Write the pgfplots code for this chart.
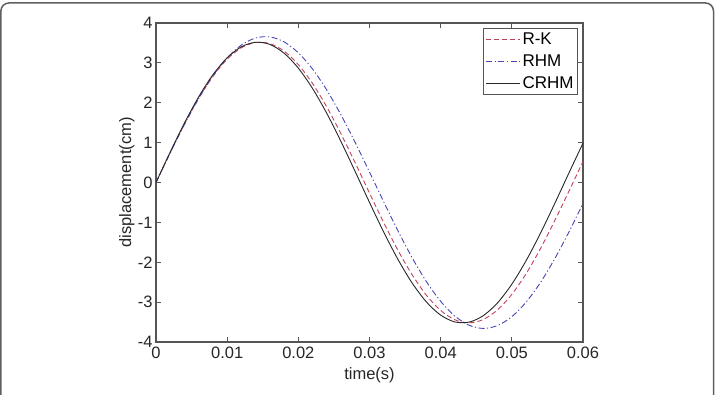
\documentclass[border=0pt]{standalone}
\usepackage{pgfplots}
\pgfplotsset{compat=1.18}
\usepackage{fontspec}
\setmainfont{Liberation Sans}

\definecolor{rkred}{RGB}{195,65,88}
\definecolor{rhmblue}{RGB}{70,70,185}
\definecolor{crhmblack}{RGB}{40,40,40}
\definecolor{axiscol}{RGB}{85,85,85}
\definecolor{framecol}{RGB}{95,95,95}

\begin{document}
\begin{tikzpicture}
\useasboundingbox (0,0) rectangle (717pt,394pt);
% outer frame of the figure panel
\draw[framecol, line width=1.5pt, rounded corners=8pt]
  (0.9pt,-5pt) -- (0.9pt,391pt) -- (713.5pt,391pt) -- (713.5pt,-5pt);

\begin{axis}[
  at={(156pt,52pt)}, anchor=south west,
  scale only axis, width=427pt, height=319pt,
  xmin=0, xmax=0.06, ymin=-4, ymax=4,
  scaled x ticks=false, scaled y ticks=false,
  xtick={0,0.01,0.02,0.03,0.04,0.05,0.06},
  xticklabels={0,0.01,0.02,0.03,0.04,0.05,0.06},
  ytick={-4,-3,-2,-1,0,1,2,3,4},
  yticklabels={-4,-3,-2,-1,0,1,2,3,4},
  tick align=inside, tick pos=both,
  major tick length=5pt,
  axis line style={axiscol, line width=1.1pt},
  tick style={axiscol, line width=0.9pt},
  ticklabel style={font=\fontsize{16.5}{19}\selectfont, text=black!85},
  xticklabel style={yshift=-1pt},
  /pgf/number format/assume math mode=true,
  xlabel={time(s)}, ylabel={displacement(cm)},
  label style={font=\fontsize{16.5}{19}\selectfont, text=black!85},
  xlabel style={at={(axis description cs:0.5,-0.103)}, anchor=center},
  ylabel style={at={(axis description cs:-0.068,0.5)}, anchor=center},
  legend style={at={(1,1)}, anchor=north east, xshift=-5pt, yshift=-5pt,
    draw=axiscol, line width=0.9pt, font=\fontsize{17}{20}\selectfont,
    inner xsep=2pt, inner ysep=2pt, row sep=5pt},
  legend cell align=left,
  legend image code/.code={\draw[#1] (0pt,0pt) -- (34pt,0pt);},
]
% R-K
\addplot[rkred, line width=0.9pt, dash pattern=on 5pt off 3pt, smooth] coordinates {
(0,0) (0.002,0.749) (0.004,1.464) (0.006,2.111) (0.008,2.662) (0.010,3.092)
(0.012,3.379) (0.014,3.511) (0.016,3.483) (0.018,3.295) (0.020,2.957)
(0.022,2.483) (0.024,1.894) (0.026,1.220) (0.028,0.489) (0.030,-0.264)
(0.032,-1.005) (0.034,-1.700) (0.036,-2.316) (0.038,-2.828) (0.040,-3.209)
(0.042,-3.443) (0.044,-3.520) (0.046,-3.435) (0.048,-3.193) (0.050,-2.805)
(0.052,-2.289) (0.054,-1.667) (0.056,-0.969) (0.058,-0.227) (0.060,0.526)
};
\addlegendentry{R-K}
% RHM
\addplot[rhmblue, line width=0.9pt, dash pattern=on 6pt off 2.5pt on 1.2pt off 2.5pt, smooth] coordinates {
(0,0) (0.002,0.744) (0.004,1.457) (0.006,2.109) (0.008,2.673) (0.010,3.125)
(0.012,3.447) (0.014,3.625) (0.016,3.652) (0.018,3.526) (0.020,3.253)
(0.022,2.845) (0.024,2.318) (0.026,1.693) (0.028,0.999) (0.030,0.262)
(0.032,-0.485) (0.034,-1.212) (0.036,-1.889) (0.038,-2.487) (0.040,-2.980)
(0.042,-3.350) (0.044,-3.580) (0.046,-3.660) (0.048,-3.587) (0.050,-3.365)
(0.052,-3.002) (0.054,-2.514) (0.056,-1.921) (0.058,-1.248) (0.060,-0.523)
};
\addlegendentry{RHM}
% CRHM
\addplot[crhmblack, line width=0.9pt, smooth] coordinates {
(0,0) (0.002,0.765) (0.004,1.492) (0.006,2.149) (0.008,2.703) (0.010,3.128)
(0.012,3.404) (0.014,3.517) (0.016,3.463) (0.018,3.243) (0.020,2.868)
(0.022,2.357) (0.024,1.733) (0.026,1.025) (0.028,0.270) (0.030,-0.499)
(0.032,-1.244) (0.034,-1.929) (0.036,-2.523) (0.038,-2.996) (0.040,-3.326)
(0.042,-3.497) (0.044,-3.501) (0.046,-3.338) (0.048,-3.016) (0.050,-2.550)
(0.052,-1.962) (0.054,-1.281) (0.056,-0.538) (0.058,0.230) (0.060,0.988)
};
\addlegendentry{CRHM}
\end{axis}
\end{tikzpicture}
\end{document}
